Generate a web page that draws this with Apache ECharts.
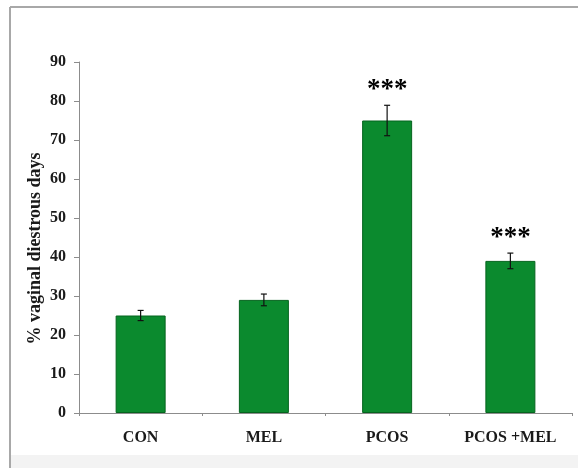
<!DOCTYPE html>
<html>
<head>
<meta charset="utf-8">
<style>
  html, body { margin: 0; padding: 0; background: #ffffff; }
  #chart { width: 578px; height: 468px; }
</style>
<script src="https://cdn.jsdelivr.net/npm/echarts@6/dist/echarts.min.js"></script>
</head>
<body>
<div id="chart"></div>
<script>
// Groups and mean % of days spent in diestrus, with SEM
const categories = ['CON', 'MEL', 'PCOS', 'PCOS +MEL'];
const meanValues = [25, 29, 75, 39];
const semValues = [1.3, 1.5, 3.9, 2.0];
const significance = ['', '', '***', '***'];
const yTicks = [0, 10, 20, 30, 40, 50, 60, 70, 80, 90];

const serif = '"Liberation Serif", "Times New Roman", serif';

const chart = echarts.init(document.getElementById('chart'), null, { renderer: 'canvas' });

const errorData = meanValues.map((v, i) => [i, v, semValues[i], significance[i]]);

chart.setOption({
  animation: false,
  backgroundColor: '#ffffff',
  graphic: [
    // frame around the figure and pale strip at its foot
    { type: 'rect', z: -10, shape: { x: 11, y: 455, width: 567, height: 13 }, style: { fill: '#f3f3f3' } },
    { type: 'line', z: -5, shape: { x1: 10, y1: 7, x2: 578, y2: 7 }, style: { stroke: '#a8a8a8', lineWidth: 2 } },
    { type: 'line', z: -5, shape: { x1: 10, y1: 7, x2: 10, y2: 468 }, style: { stroke: '#a8a8a8', lineWidth: 2 } }
  ],
  grid: { left: 79, right: 6, top: 62, bottom: 55, containLabel: false },
  xAxis: {
    type: 'category',
    data: categories,
    boundaryGap: true,
    axisLine: { lineStyle: { color: '#8c8c8c', width: 1 } },
    axisTick: { show: true, length: 3, lineStyle: { color: '#8c8c8c' } },
    axisLabel: { color: '#1a1a1a', fontFamily: serif, fontSize: 16, fontWeight: 'bold', margin: 17 }
  },
  yAxis: {
    type: 'value',
    min: yTicks[0],
    max: yTicks[yTicks.length - 1],
    interval: 10,
    name: '% vaginal diestrous days',
    nameLocation: 'middle',
    nameGap: 35,
    nameMoveOverlap: false,
    nameRotate: 90,
    nameTextStyle: { color: '#1a1a1a', fontFamily: serif, fontSize: 18, fontWeight: 'bold', padding: [0, 0, 0, -22] },
    axisLine: { show: true, lineStyle: { color: '#8c8c8c', width: 1 } },
    axisTick: { show: true, inside: false, length: 5, lineStyle: { color: '#8c8c8c' } },
    axisLabel: { color: '#1a1a1a', fontFamily: serif, fontSize: 16, fontWeight: 'bold', margin: 13 },
    splitLine: { show: false }
  },
  series: [
    {
      type: 'bar',
      data: meanValues,
      barWidth: 50,
      itemStyle: { color: '#0b8a2e', borderColor: '#05641e', borderWidth: 1 }
    },
    {
      type: 'custom',
      data: errorData,
      z: 5,
      renderItem: function (params, api) {
        const x = api.value(0);
        const mean = api.value(1);
        const sem = api.value(2);
        const star = significance[params.dataIndex];
        const top = api.coord([x, mean + sem]);
        const bottom = api.coord([x, mean - sem]);
        const cap = 3;
        const children = [
          { type: 'line', shape: { x1: top[0], y1: top[1], x2: bottom[0], y2: bottom[1] }, style: { stroke: '#111', lineWidth: 1.2 } },
          { type: 'line', shape: { x1: top[0] - cap, y1: top[1], x2: top[0] + cap, y2: top[1] }, style: { stroke: '#111', lineWidth: 1.2 } },
          { type: 'line', shape: { x1: bottom[0] - cap, y1: bottom[1], x2: bottom[0] + cap, y2: bottom[1] }, style: { stroke: '#111', lineWidth: 1.2 } }
        ];
        if (star) {
          children.push({
            type: 'text',
            style: {
              text: star,
              x: top[0],
              y: top[1] - 2,
              align: 'center',
              verticalAlign: 'bottom',
              fill: '#000',
              font: 'bold 27px ' + serif
            }
          });
        }
        return { type: 'group', children: children };
      }
    }
  ]
});
</script>
</body>
</html>
